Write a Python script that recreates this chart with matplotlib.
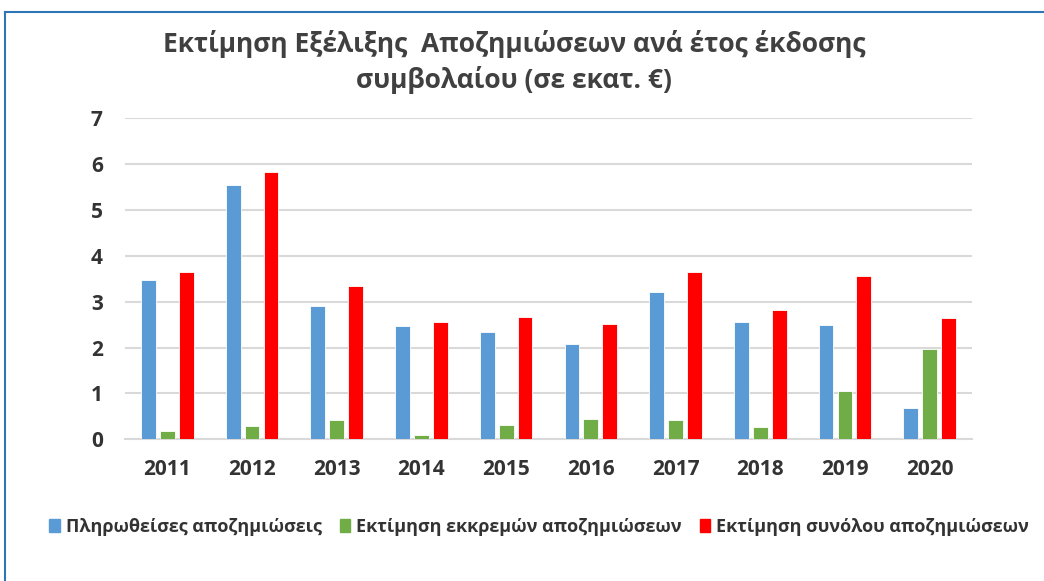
import matplotlib
matplotlib.use("Agg")
import matplotlib.pyplot as plt
import numpy as np
from matplotlib.patches import Rectangle
from matplotlib.lines import Line2D

years = ["2011", "2012", "2013", "2014", "2015", "2016", "2017", "2018", "2019", "2020"]
paid = [3.46, 5.55, 2.90, 2.47, 2.34, 2.07, 3.22, 2.55, 2.50, 0.68]
pending = [0.18, 0.28, 0.43, 0.09, 0.31, 0.44, 0.41, 0.27, 1.05, 1.97]
total = [3.64, 5.82, 3.33, 2.56, 2.66, 2.52, 3.64, 2.82, 3.55, 2.64]
series_names = ["Πληρωθείσες αποζημιώσεις", "Εκτίμηση εκκρεμών αποζημιώσεων", "Εκτίμηση συνόλου αποζημιώσεων"]
colors = ["#5B9BD5", "#70AD47", "#FF0000"]
title = "Εκτίμηση Εξέλιξης  Αποζημιώσεων ανά έτος έκδοσης\nσυμβολαίου (σε εκατ. €)"

plt.rcParams['font.family'] = ['Open Sans', 'DejaVu Sans']

W, H = 1044, 581
fig = plt.figure(figsize=(W / 100, H / 100), dpi=100)
fig.patch.set_facecolor("white")

# plot area: x 125..972, y 118..439
ax = fig.add_axes([125 / W, 1 - 439.3 / H, (972 - 125) / W, (439.3 - 118) / H])
x = np.arange(len(years))
bw = 0.174
step = 0.223
for i, (vals, c) in enumerate(zip([paid, pending, total], colors)):
    ax.bar(x + (i - 1) * step, vals, width=bw, color=c, edgecolor="white", linewidth=0.6, zorder=3, label=series_names[i])

ax.set_xlim(-0.5, len(years) - 0.5)
ax.set_ylim(0, 7)
ax.set_yticks(range(0, 8))
ax.set_xticks(x)
ax.set_xticklabels(years)
for s in ["top", "right", "left"]:
    ax.spines[s].set_visible(False)
ax.spines["bottom"].set_color("#D9D9D9")
ax.spines["bottom"].set_linewidth(1.5)
ax.grid(axis="y", color="#D9D9D9", linewidth=1.5, zorder=0)
ax.tick_params(axis="both", length=0, labelsize=15, labelcolor="#333333")
ax.tick_params(axis="x", pad=14)
ax.tick_params(axis="y", pad=16)
for lab in ax.get_xticklabels() + ax.get_yticklabels():
    lab.set_fontweight("bold")

fig.text(514 / W, 1 - 62 / H, title, ha="center", va="center", fontsize=19, fontweight="bold",
         color="#404040", linespacing=1.35)

handles = [Rectangle((0, 0), 1, 1, color=c) for c in colors]
leg = fig.legend(handles, series_names, loc="center", bbox_to_anchor=(539 / W, 1 - 527 / H), ncol=3,
                 frameon=False, handlelength=0.6, handleheight=0.7, handletextpad=0.3, columnspacing=1.0,
                 prop={"size": 13, "weight": "bold"})
for t in leg.get_texts():
    t.set_color("#333333")

# chart border
fig.add_artist(Line2D([5 / W, 5 / W], [0, 1 - 12 / H], transform=fig.transFigure, color="#2E75B6", linewidth=1.5))
fig.add_artist(Line2D([5 / W, 1], [1 - 12 / H, 1 - 12 / H], transform=fig.transFigure, color="#2E75B6", linewidth=1.5))

fig.savefig("out.png", dpi=100)
